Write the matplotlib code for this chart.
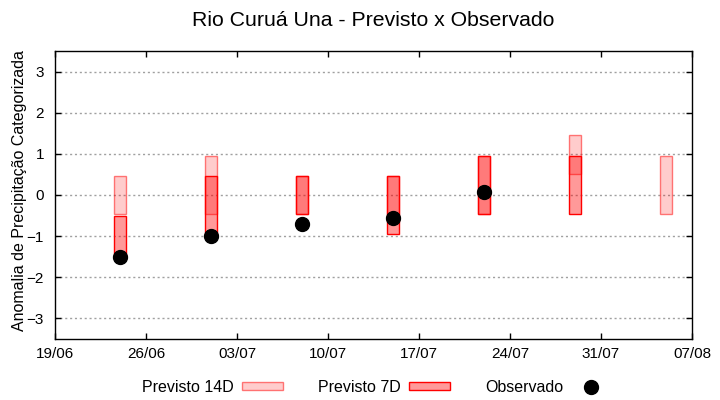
import matplotlib
matplotlib.use("Agg")
import matplotlib.pyplot as plt
import matplotlib.dates as mdates
from matplotlib.patches import Patch
from matplotlib.lines import Line2D
import numpy as np
import pandas as pd

plt.rcParams['font.family'] = ['Liberation Sans', 'DejaVu Sans']

# ---- data ----
dates = ['2024-06-24', '2024-07-01', '2024-07-08', '2024-07-15',
         '2024-07-22', '2024-07-29', '2024-08-05']
prev14_low = [-0.45, -0.45, -0.45, -0.45, -0.45, 0.50, -0.45]
prev14_high = [0.45, 0.95, 0.45, 0.45, 0.95, 1.45, 0.95]
prev7_low = [-1.50, -1.00, -0.45, -0.95, -0.45, -0.45, np.nan]
prev7_high = [-0.50, 0.45, 0.45, 0.45, 0.95, 0.95, np.nan]
observado = [-1.50, -1.00, -0.70, -0.55, 0.07, np.nan, np.nan]

xtick_dates = ['2024-06-19', '2024-06-26', '2024-07-03', '2024-07-10',
               '2024-07-17', '2024-07-24', '2024-07-31', '2024-08-07']
yticks = [-3, -2, -1, 0, 1, 2, 3]

title = 'Rio Curuá Una - Previsto x Observado'
ylabel = 'Anomalia de Precipitação Categorizada'
labels = ['Previsto 14D', 'Previsto 7D', 'Observado']

# ---- plot ----
x = mdates.date2num(pd.to_datetime(dates).to_pydatetime())
xt = mdates.date2num(pd.to_datetime(xtick_dates).to_pydatetime())
p14l = np.array(prev14_low); p14h = np.array(prev14_high)
p7l = np.array(prev7_low); p7h = np.array(prev7_high)

fig = plt.figure(figsize=(7.2, 4.0), dpi=100)
ax = fig.add_axes([55/720, 1-339/400, (692-55)/720, (339-51)/400])

c14_face = (1, 0, 0, 0.2)
c14_edge = (1, 0, 0, 0.5)
c7_face = (1, 0, 0, 0.4)
c7_edge = (1, 0, 0, 1.0)

ax.bar(x, p14h - p14l, bottom=p14l, width=0.9, facecolor=c14_face,
       edgecolor=c14_edge, linewidth=1.0, zorder=2)
m = ~np.isnan(p7l)
ax.bar(x[m], (p7h - p7l)[m], bottom=p7l[m], width=0.9, facecolor=c7_face,
       edgecolor=c7_edge, linewidth=1.0, zorder=3)
obs = np.array(observado)
mo = ~np.isnan(obs)
ax.plot(x[mo], obs[mo], 'o', color='black', markersize=10, zorder=4)

ax.set_xlim(xt[0], xt[-1])
ax.set_ylim(-3.5, 3.5)
ax.set_xticks(xt)
ax.xaxis.set_major_formatter(mdates.DateFormatter('%d/%m'))
ax.set_yticks(yticks)
ax.yaxis.grid(True, linestyle=(0, (1.5, 2.0)), color='#a0a0a0', linewidth=1.0, zorder=0)
ax.set_axisbelow(True)
ax.tick_params(axis='both', direction='in', length=4, width=1.0,
               top=True, right=True, labelsize=11, colors='black')
ax.tick_params(axis='y', pad=8)
ax.tick_params(axis='x', pad=6)
for s in ax.spines.values():
    s.set_linewidth(1.0)
ax.set_ylabel(ylabel, fontsize=11.5)
ax.yaxis.set_label_coords(-0.044, 0.515)

fig.text(373.5/720, 1-20/400, title, ha='center', va='center', fontsize=15.3)

handles = [Patch(facecolor=c14_face, edgecolor=c14_edge, linewidth=1.0),
           Patch(facecolor=c7_face, edgecolor=c7_edge, linewidth=1.0),
           Line2D([], [], marker='o', color='black', linestyle='none', markersize=10)]
fig.legend(handles, labels, loc='center', bbox_to_anchor=(377/720, 1-387/400),
           ncol=3, frameon=False, markerfirst=False, handlelength=2.56,
           handleheight=0.42, columnspacing=2.2, handletextpad=0.5, fontsize=11.5)

fig.savefig('out.png', dpi=100)
